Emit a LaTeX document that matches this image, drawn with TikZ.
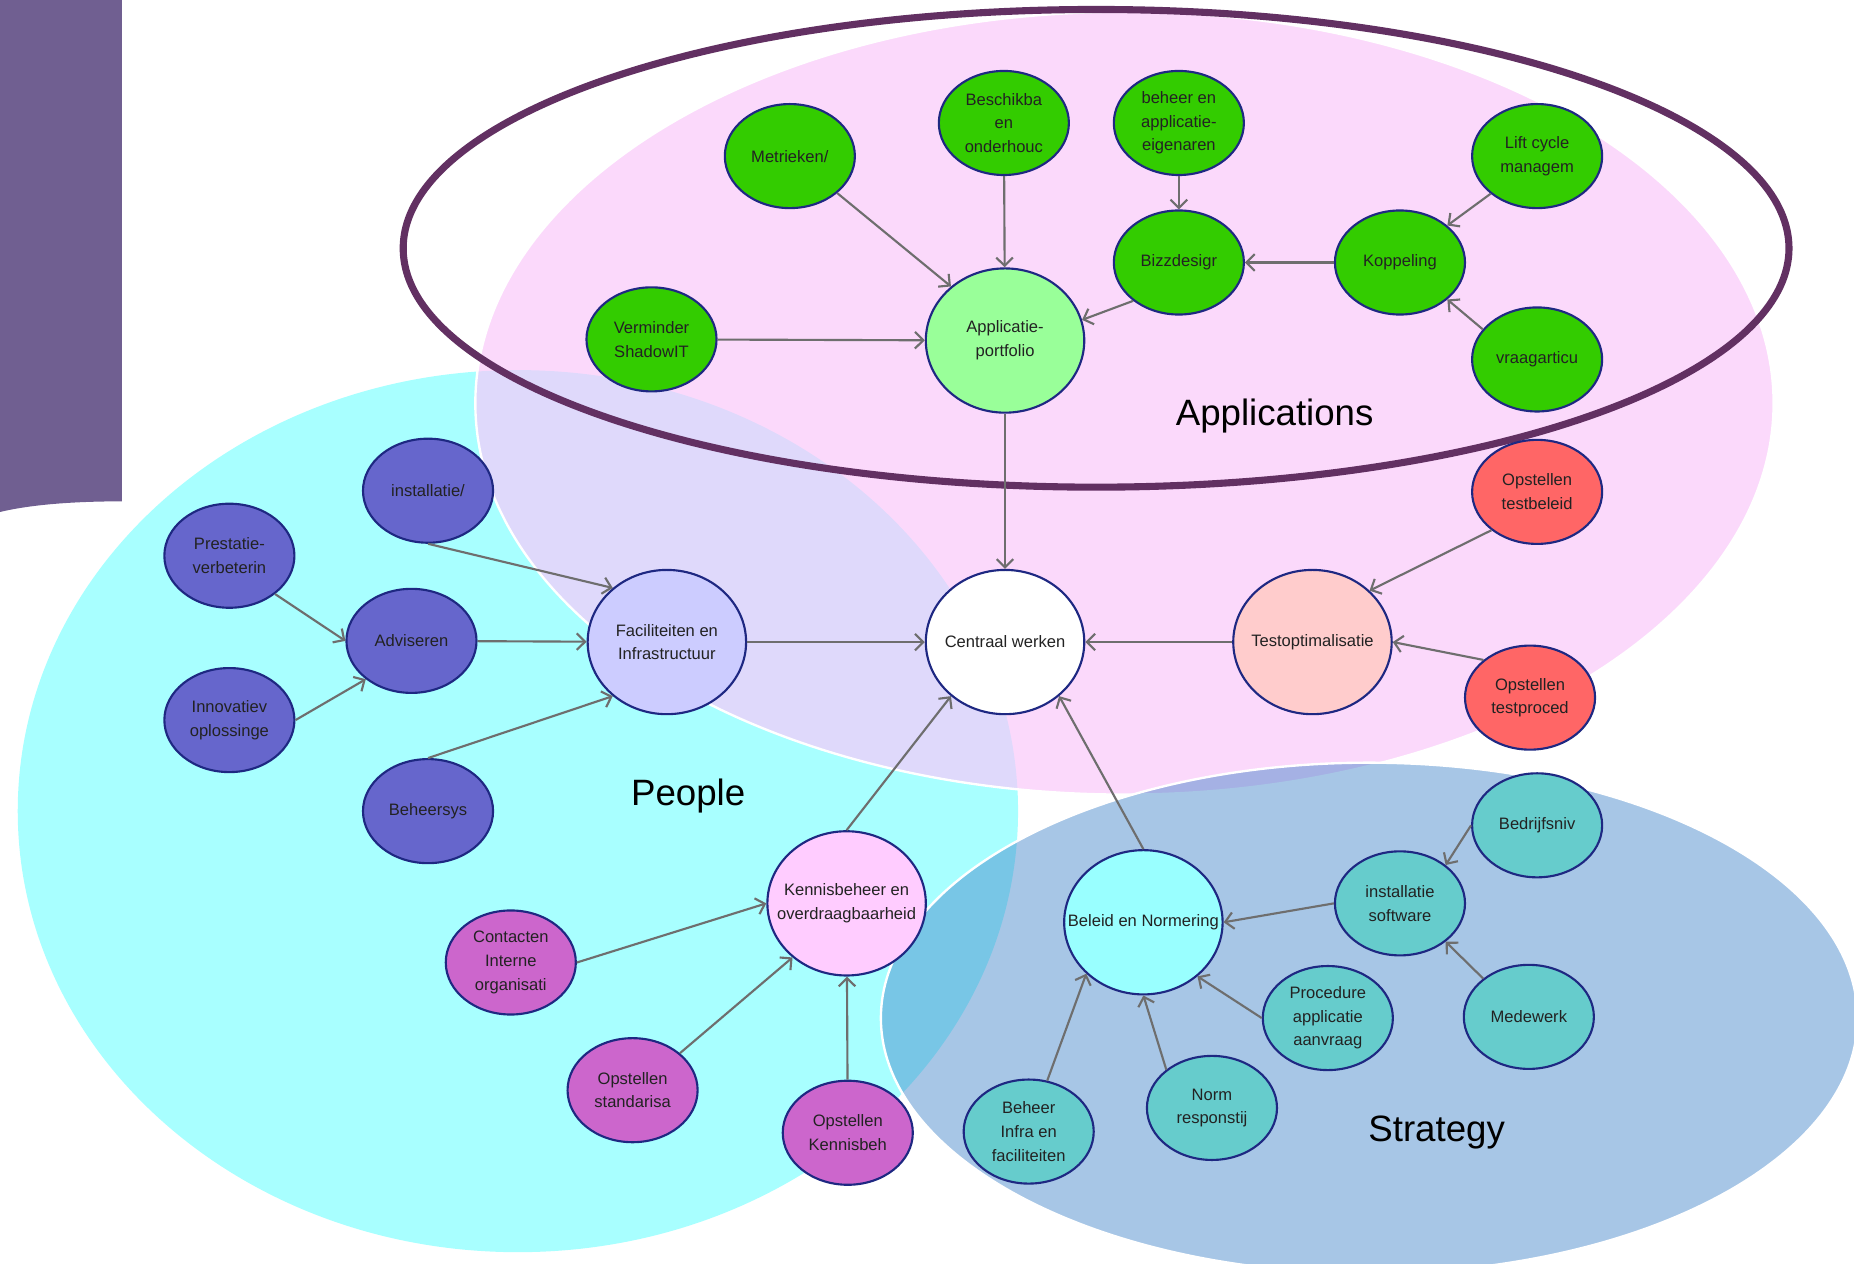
\documentclass[tikz,border=0pt]{standalone}
\usepackage{fontspec}
\setmainfont{Liberation Sans}
\usetikzlibrary{shapes.geometric,arrows.meta}
\definecolor{barC}{RGB}{112,95,145}
\definecolor{cyanR}{RGB}{168,255,255}
\definecolor{pinkR}{RGB}{250,199,250}
\definecolor{stratR}{RGB}{62,129,200}
\definecolor{ringC}{RGB}{98,48,98}
\definecolor{nodeB}{RGB}{30,40,130}
\definecolor{edgeC}{RGB}{110,110,110}
\definecolor{txtC}{RGB}{34,34,34}
\definecolor{grnC}{RGB}{51,204,0}
\definecolor{lgrnC}{RGB}{153,255,153}
\definecolor{redC}{RGB}{255,102,102}
\definecolor{salC}{RGB}{255,204,204}
\definecolor{blueC}{RGB}{102,102,204}
\definecolor{lavC}{RGB}{204,204,255}
\definecolor{magC}{RGB}{204,102,204}
\definecolor{lpinkC}{RGB}{255,204,255}
\definecolor{tealC}{RGB}{102,204,204}
\definecolor{lcyanC}{RGB}{153,255,255}
\begin{document}
\begin{tikzpicture}[x=1pt,y=-1pt,
  bub/.style={ellipse, draw=nodeB, line width=1.8pt, inner sep=0pt,
    minimum width=110pt, minimum height=88pt},
  big/.style={bub, minimum width=134pt, minimum height=122pt},
  lbl/.style={inner sep=0pt, align=center, text=txtC, font=\fontsize{14}{20}\selectfont},
  region/.style={inner sep=0pt, text=black, font=\fontsize{31}{36}\selectfont},
  arr/.style={draw=edgeC, line width=1.8pt, -{Straight Barb[length=7pt,width=14pt]}}
]
\useasboundingbox (0,0) rectangle (1568,1069);
\fill[white] (0,0) rectangle (1568,1069);
% regions
\fill[cyanR] (438,686) ellipse [x radius=423, y radius=373];
\draw[white, line width=2pt, fill=pinkR, fill opacity=0.68] (951,341) ellipse [x radius=549, y radius=331];
\draw[white, line width=2pt, fill=stratR, fill opacity=0.45] (1158,861) ellipse [x radius=413, y radius=216];
\fill[barC] (0,0) -- (103,0) -- (103,424) .. controls (60,424) and (25,427) .. (0,433) -- cycle;
\draw[ringC, line width=6pt] (927,210) ellipse [x radius=586, y radius=202];
\node[region] (tApp) at (1078,352) {Applications};
\node[region] (tPeo) at (582,673) {People};
\node[region] (tStr) at (1215,958) {Strategy};
% Applications
\node[bub, fill=grnC, label={[lbl]center:{Metrieken/}}] (met) at (668,132) {};
\node[bub, fill=grnC, label={[lbl]center:{Beschikba\\en\\onderhouc}}] (bes) at (849,104) {};
\node[bub, fill=grnC, label={[lbl]center:{beheer en\\applicatie-\\eigenaren}}] (beh) at (997,104) {};
\node[bub, fill=grnC, label={[lbl]center:{Lift cycle\\managem}}] (lif) at (1300,132) {};
\node[bub, fill=grnC, label={[lbl]center:{Bizzdesigr}}] (biz) at (997,222) {};
\node[bub, fill=grnC, label={[lbl]center:{Koppeling}}] (kop) at (1184,222) {};
\node[bub, fill=grnC, label={[lbl]center:{vraagarticu}}] (vra) at (1300,304) {};
\node[bub, fill=grnC, label={[lbl]center:{Verminder\\ShadowIT}}] (ver) at (551,287) {};
\node[big, fill=lgrnC, label={[lbl]center:{Applicatie-\\portfolio}}] (apf) at (850,288) {};
% centre and test
\node[big, fill=white, label={[lbl]center:{Centraal werken}}] (cw) at (850,543) {};
\node[big, fill=salC, label={[lbl]center:{Testoptimalisatie}}] (tst) at (1110,543) {};
\node[bub, fill=redC, label={[lbl]center:{Opstellen\\testbeleid}}] (tbl) at (1300,416) {};
\node[bub, fill=redC, label={[lbl]center:{Opstellen\\testproced}}] (tpr) at (1294,590) {};
% People
\node[big, fill=lavC, label={[lbl]center:{Faciliteiten en\\Infrastructuur}}] (fac) at (564,543) {};
\node[bub, fill=blueC, label={[lbl]center:{installatie/}}] (ins) at (362,415) {};
\node[bub, fill=blueC, label={[lbl]center:{Prestatie-\\verbeterin}}] (pre) at (194,470) {};
\node[bub, fill=blueC, label={[lbl]center:{Adviseren}}] (adv) at (348,542) {};
\node[bub, fill=blueC, label={[lbl]center:{Innovatiev\\oplossinge}}] (inn) at (194,609) {};
\node[bub, fill=blueC, label={[lbl]center:{Beheersys}}] (bhs) at (362,686) {};
\node[big, fill=lpinkC, label={[lbl]center:{Kennisbeheer en\\overdraagbaarheid}}] (ken) at (716,764) {};
\node[bub, fill=magC, label={[lbl]center:{Contacten\\Interne\\organisati}}] (con) at (432,814) {};
\node[bub, fill=magC, label={[lbl]center:{Opstellen\\standarisa}}] (sta) at (535,922) {};
\node[bub, fill=magC, label={[lbl]center:{Opstellen\\Kennisbeh}}] (okb) at (717,958) {};
% Strategy
\node[big, fill=lcyanC, label={[lbl]center:{Beleid en Normering}}] (bel) at (967,780) {};
\node[bub, fill=tealC, label={[lbl]center:{installatie\\software}}] (isw) at (1184,764) {};
\node[bub, fill=tealC, label={[lbl]center:{Bedrijfsniv}}] (bed) at (1300,698) {};
\node[bub, fill=tealC, label={[lbl]center:{Medewerk}}] (med) at (1293,860) {};
\node[bub, fill=tealC, label={[lbl]center:{Procedure\\applicatie\\aanvraag}}] (pro) at (1123,861) {};
\node[bub, fill=tealC, label={[lbl]center:{Norm\\responstij}}] (nor) at (1025,937) {};
\node[bub, fill=tealC, label={[lbl]center:{Beheer\\Infra en\\faciliteiten}}] (bif) at (870,957) {};
% edges
\draw[arr] (met.-38) -- (apf.135);
\draw[arr] (bes) -- (apf);
\draw[arr] (biz.220) -- (apf.15);
\draw[arr] (ver) -- (apf);
\draw[arr] (beh) -- (biz);
\draw[arr] (kop) -- (biz);
\draw[arr] (lif.219) -- (kop.38);
\draw[arr] (vra.151) -- (kop.-38);
\draw[arr] (apf) -- (cw);
\draw[arr] (tst) -- (cw);
\draw[arr] (tbl.220) -- (tst.42);
\draw[arr] (tpr.141) -- (tst.east);
\draw[arr] (fac) -- (cw);
\draw[arr] (ins.south) -- (fac.135);
\draw[arr] (adv) -- (fac);
\draw[arr] (bhs.north) -- (fac.225);
\draw[arr] (pre.-40) -- (adv.west);
\draw[arr] (inn.east) -- (adv.220);
\draw[arr] (ken.north) -- (cw.225);
\draw[arr] (con.east) -- (ken.west);
\draw[arr] (sta.38) -- (ken.225);
\draw[arr] (okb) -- (ken);
\draw[arr] (bel.north) -- (cw.-45);
\draw[arr] (isw.west) -- (bel.east);
\draw[arr] (bed.west) -- (isw.40);
\draw[arr] (med.140) -- (isw.-40);
\draw[arr] (pro.west) -- (bel.-45);
\draw[arr] (nor.140) -- (bel.south);
\draw[arr] (bif.70) -- (bel.222);
\end{tikzpicture}
\end{document}
